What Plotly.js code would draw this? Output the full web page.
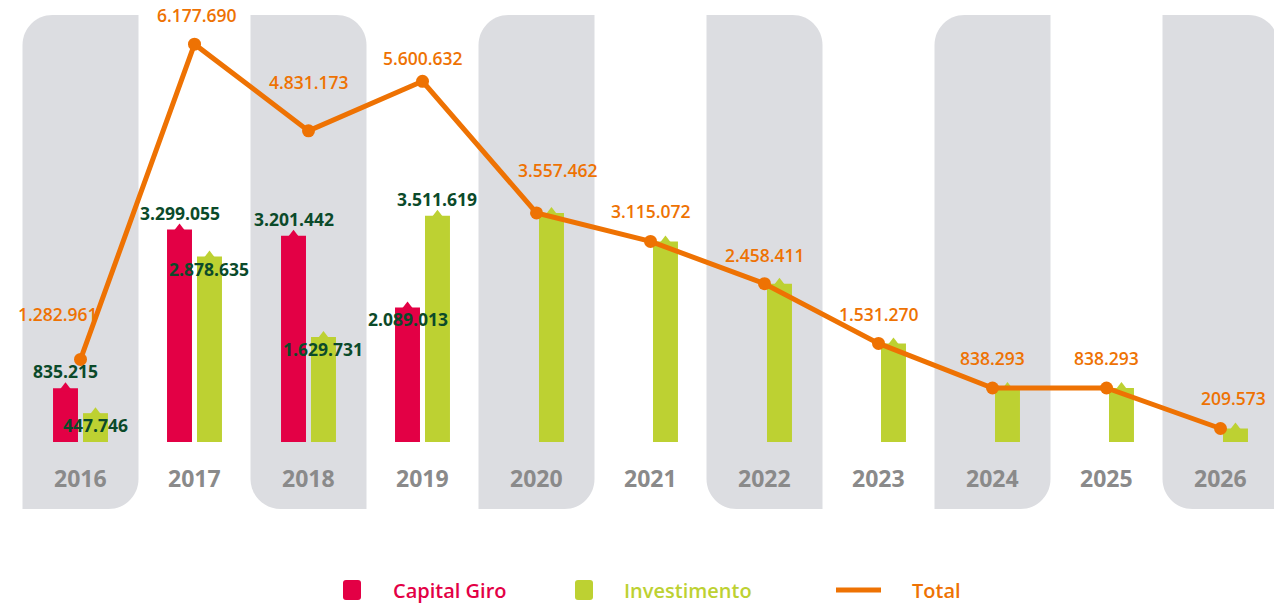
<!DOCTYPE html>
<html>
<head>
<meta charset="utf-8">
<script src="https://cdn.plot.ly/plotly-3.0.1.min.js"></script>
<style>
html,body{margin:0;padding:0;background:#ffffff;}
#chart{width:1274px;height:603px;}
</style>
</head>
<body>
<div id="chart"></div>
<script>
// ---------------- DATA ----------------
const years = [2016, 2017, 2018, 2019, 2020, 2021, 2022, 2023, 2024, 2025, 2026];
const yearLabels = ['2016', '2017', '2018', '2019', '2020', '2021', '2022', '2023', '2024', '2025', '2026'];
const capitalGiro = [835215, 3299055, 3201442, 2089013, null, null, null, null, null, null, null];
const investimento = [447746, 2878635, 1629731, 3511619, 3557462, 3115072, 2458411, 1531270, 838293, 838293, 209573];
const total = [1282961, 6177690, 4831173, 5600632, 3557462, 3115072, 2458411, 1531270, 838293, 838293, 209573];
const seriesNames = ['Capital Giro', 'Investimento', 'Total'];

// ---------------- STYLE ----------------
const RED = '#e30045', GREEN = '#bdd132', ORANGE = '#ee7203', DKGREEN = '#0b4a2a', YEARGREY = '#8a8a8a', PANEL = '#dcdde1';
const FONT = 'Open Sans, Noto Sans, sans-serif';
const BAR_W = 0.219, CAP_OFF = -0.241, INV_OFF = 0.022;
// label placement (style): above / below the bar top
const capPlace = ['above', 'above', 'above', 'below'];
const invPlace = ['below', 'below', 'below', 'above'];
// total label shifts in px (style)
const totShift = [[-23, 45], [2, 29], [0, 49], [0, 23], [21, 43], [0, 30], [0, 29], [0, 29], [0, 30], [0, 30], [13, 31]];

function fmt(v) { return String(v).replace(/\B(?=(\d{3})+(?!\d))/g, '.'); }

// ---------------- TRACES ----------------
const traces = [
  {type: 'bar', name: seriesNames[0], x: years, y: capitalGiro, width: BAR_W, offset: CAP_OFF,
   marker: {color: RED, line: {width: 0}}, showlegend: false, hoverinfo: 'x+y'},
  {type: 'bar', name: seriesNames[1], x: years, y: investimento, width: BAR_W, offset: INV_OFF,
   marker: {color: GREEN, line: {width: 0}}, showlegend: false, hoverinfo: 'x+y'},
  {type: 'scatter', mode: 'markers', x: years.map(y => y + CAP_OFF + BAR_W / 2), y: capitalGiro,
   marker: {symbol: 'triangle-up', size: 12, color: RED, line: {width: 0}}, showlegend: false, hoverinfo: 'skip'},
  {type: 'scatter', mode: 'markers', x: years.map(y => y + INV_OFF + BAR_W / 2), y: investimento,
   marker: {symbol: 'triangle-up', size: 12, color: GREEN, line: {width: 0}}, showlegend: false, hoverinfo: 'skip'},
  {type: 'scatter', mode: 'lines+markers', name: seriesNames[2], x: years, y: total,
   line: {color: ORANGE, width: 5}, marker: {color: ORANGE, size: 13}, showlegend: false, hoverinfo: 'x+y'}
];

// ---------------- SHAPES ----------------
const H = 509; // plot height in px
function pY(py) { return (H - py) / H; }
function pX(px) { return px / 1274; }

function panelPath(w, h, r, tlbr) {
  const k = 0.5523 * r, L = -w / 2, R = w / 2;
  if (tlbr) {
    return `M${L},0 L${R - r},0 C${R - r + k},0 ${R},${r - k} ${R},${r} L${R},${h} L${L + r},${h} C${L + r - k},${h} ${L},${h - r + k} ${L},${h - r} Z`;
  }
  return `M${L + r},0 L${R},0 L${R},${h - r} C${R},${h - r + k} ${R - r + k},${h} ${R - r},${h} L${L},${h} L${L},${r} C${L},${r - k} ${L + r - k},0 ${L + r},0 Z`;
}
function roundRect(w, h, r) {
  const L = -w / 2, R = w / 2, B = -h / 2, T = h / 2;
  return `M${L + r},${B} L${R - r},${B} Q${R},${B} ${R},${B + r} L${R},${T - r} Q${R},${T} ${R - r},${T} L${L + r},${T} Q${L},${T} ${L},${T - r} L${L},${B + r} Q${L},${B} ${L + r},${B} Z`;
}

const shapes = [];
years.forEach((yr, i) => {
  if (i % 2 === 0) {
    shapes.push({type: 'path', layer: 'below', xref: 'x', yref: 'paper', xsizemode: 'pixel', ysizemode: 'pixel',
      xanchor: yr, yanchor: 0, path: panelPath(116, 494, 30, (i / 2) % 2 === 0),
      fillcolor: PANEL, line: {width: 0}});
  }
});
shapes.push({type: 'path', xref: 'paper', yref: 'paper', xsizemode: 'pixel', ysizemode: 'pixel',
  xanchor: pX(352), yanchor: pY(590), path: roundRect(18, 20, 3), fillcolor: RED, line: {width: 0}});
shapes.push({type: 'path', xref: 'paper', yref: 'paper', xsizemode: 'pixel', ysizemode: 'pixel',
  xanchor: pX(584), yanchor: pY(590), path: roundRect(18, 20, 3), fillcolor: GREEN, line: {width: 0}});
shapes.push({type: 'line', xref: 'paper', yref: 'paper', x0: pX(836), x1: pX(881), y0: pY(590), y1: pY(590),
  line: {color: ORANGE, width: 5, cap: 'round'}});

// ---------------- ANNOTATIONS ----------------
const annotations = [];
yearLabels.forEach((t, i) => {
  annotations.push({x: years[i], xref: 'x', y: pY(478), yref: 'paper', text: t, showarrow: false,
    xanchor: 'center', yanchor: 'middle', font: {family: FONT, size: 23, weight: 700, color: YEARGREY}});
});
capitalGiro.forEach((v, i) => {
  if (v == null || !capPlace[i]) return;
  annotations.push({x: years[i] + CAP_OFF + BAR_W / 2, y: v, xref: 'x', yref: 'y', text: fmt(v), showarrow: false,
    xanchor: 'center', yanchor: 'middle', yshift: capPlace[i] === 'above' ? 17 : -12,
    font: {family: FONT, size: 17.5, weight: 700, color: DKGREEN}});
});
investimento.forEach((v, i) => {
  if (v == null || !invPlace[i]) return;
  annotations.push({x: years[i] + INV_OFF + BAR_W / 2, y: v, xref: 'x', yref: 'y', text: fmt(v), showarrow: false,
    xanchor: 'center', yanchor: 'middle', yshift: invPlace[i] === 'above' ? 17 : -12,
    font: {family: FONT, size: 17.5, weight: 700, color: DKGREEN}});
});
total.forEach((v, i) => {
  annotations.push({x: years[i], y: v, xref: 'x', yref: 'y', text: fmt(v), showarrow: false,
    xanchor: 'center', yanchor: 'middle', xshift: totShift[i][0], yshift: totShift[i][1],
    font: {family: FONT, size: 17.5, weight: 600, color: ORANGE}});
});
[[seriesNames[0], 391, RED], [seriesNames[1], 622, GREEN], [seriesNames[2], 910, ORANGE]].forEach(([t, px, c]) => {
  annotations.push({x: pX(px), y: pY(590), xref: 'paper', yref: 'paper', text: t, showarrow: false,
    xanchor: 'left', yanchor: 'middle', font: {family: FONT, size: 20, weight: 600, color: c}});
});

// ---------------- LAYOUT ----------------
const layout = {
  width: 1274, height: 603,
  margin: {l: 0, r: 0, t: 0, b: 94, pad: 0},
  paper_bgcolor: '#ffffff', plot_bgcolor: 'rgba(0,0,0,0)',
  showlegend: false,
  barmode: 'overlay',
  xaxis: {range: [2015.2939, 2026.4693], visible: false, fixedrange: true},
  yaxis: {range: [-1040373, 6863354], visible: false, fixedrange: true},
  shapes: shapes,
  annotations: annotations
};

Plotly.newPlot('chart', traces, layout, {displayModeBar: false, staticPlot: true});
</script>
</body>
</html>
